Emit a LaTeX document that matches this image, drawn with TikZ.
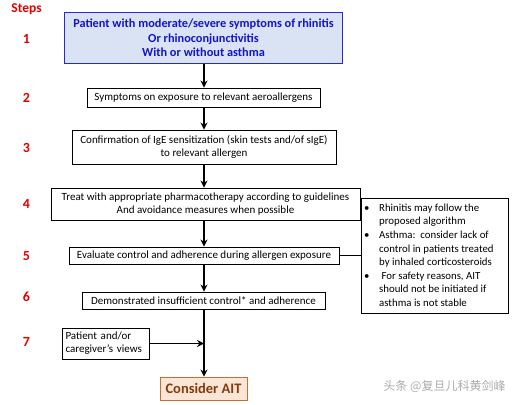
\documentclass[tikz,border=0pt]{standalone}
\usepackage{fontspec}
\setmainfont{Carlito}
\newfontfamily\cjk{Noto Sans CJK SC}
\usetikzlibrary{arrows.meta}
\definecolor{stepred}{RGB}{226,0,0}
\definecolor{boxblue}{RGB}{218,227,243}
\definecolor{lineblue}{RGB}{40,40,210}
\definecolor{txtblue}{RGB}{20,20,200}
\definecolor{aitfill}{RGB}{251,229,214}
\definecolor{aitline}{RGB}{200,110,50}
\definecolor{aittext}{RGB}{132,60,12}
\tikzset{
  x=1pt,y=-1pt,
  flowbox/.style={draw=black,line width=0.9pt,inner sep=0pt,align=center,font=\fontsize{11}{13}\selectfont},
  stepnum/.style={text=stepred,font=\fontsize{14}{16}\selectfont\bfseries},
  flowarrow/.style={line width=1.5pt,-{Stealth[length=7pt,width=7pt]}},
  plainline/.style={line width=1.2pt}
}
\begin{document}
\begin{tikzpicture}
\useasboundingbox (0,0) rectangle (532,404);
\coordinate (spine) at (204,0);
% step labels
\node[stepnum,font=\fontsize{13.5}{15}\selectfont\bfseries] (steps) at (26.5,9) {Steps};
\node[stepnum] (s1) at (26.5,39) {1};
\node[stepnum] (s2) at (26.5,98) {2};
\node[stepnum] (s3) at (26.5,148) {3};
\node[stepnum] (s4) at (26.5,204) {4};
\node[stepnum] (s5) at (26.5,256) {5};
\node[stepnum] (s6) at (26.5,297) {6};
\node[stepnum] (s7) at (26.5,342) {7};
% boxes
\node[flowbox,draw=lineblue,fill=boxblue,text=txtblue,line width=1pt,minimum width=278,minimum height=50,font=\fontsize{12.3}{14.5}\selectfont\bfseries] (b1) at (203.5,38) {Patient with moderate/severe symptoms of rhinitis\\Or rhinoconjunctivitis\\With or without asthma};
\node[flowbox,minimum width=233,minimum height=19] (b2) at (203.5,97.5) {Symptoms on exposure to relevant aeroallergens};
\node[flowbox,minimum width=264,minimum height=34] (b3) at (204,147) {Confirmation of IgE sensitization (skin tests and/of sIgE)\\to relevant allergen};
\node[flowbox,minimum width=309,minimum height=32] (b4) at (205.5,204) {Treat with appropriate pharmacotherapy according to guidelines\\And avoidance measures when possible};
\node[flowbox,minimum width=270,minimum height=17] (b5) at (204,255.5) {Evaluate control and adherence during allergen exposure};
\node[flowbox,minimum width=243,minimum height=17] (b6) at (203.5,300.5) {Demonstrated insufficient control* and adherence};
\node[flowbox,minimum width=87,minimum height=31,align=left,text width=80] (b7) at (105.5,343.5) {Patient and/or\\caregiver’s views};
\node[flowbox,draw=aitline,fill=aitfill,text=aittext,minimum width=87,minimum height=23,font=\fontsize{14.5}{16}\selectfont\bfseries] (ait) at (203.5,388.5) {Consider AIT};
% note box
\node[flowbox,minimum width=147,minimum height=115] (note) at (434.5,255.5) {};
\node[anchor=north west,inner sep=0pt,align=left,font=\fontsize{10.8}{13.6}\selectfont] (notetext) at (364,201.5) {%
\begin{tabular}{@{}p{15pt}@{}l@{}}
\textbullet & Rhinitis may follow the\\
 & proposed algorithm\\
\textbullet & Asthma:\ \ consider lack of\\
 & control in patients treated\\
 & by inhaled corticosteroids\\
\textbullet & \ For safety reasons, AIT\\
 & should not be initiated if\\
 & asthma is not stable
\end{tabular}};
% connectors
\draw[flowarrow] (b1.south -| spine) -- (b2.north -| spine);
\draw[flowarrow] (b2.south -| spine) -- (b3.north -| spine);
\draw[flowarrow] (b3.south -| spine) -- (b4.north -| spine);
\draw[flowarrow] (b4.south -| spine) -- (b5.north -| spine);
\draw[flowarrow] (b5.south -| spine) -- (b6.north -| spine);
\draw[flowarrow] (b6.south -| spine) -- (ait.north -| spine);
\draw[flowarrow] (b7) -- (b7 -| spine);
\draw[plainline] (b5) -- (note);
% watermark
\node[text=gray!65,font=\cjk\fontsize{12}{14}\selectfont] (wm) at (444.5,386) {头条 @复旦儿科黄剑峰};
\end{tikzpicture}
\end{document}
